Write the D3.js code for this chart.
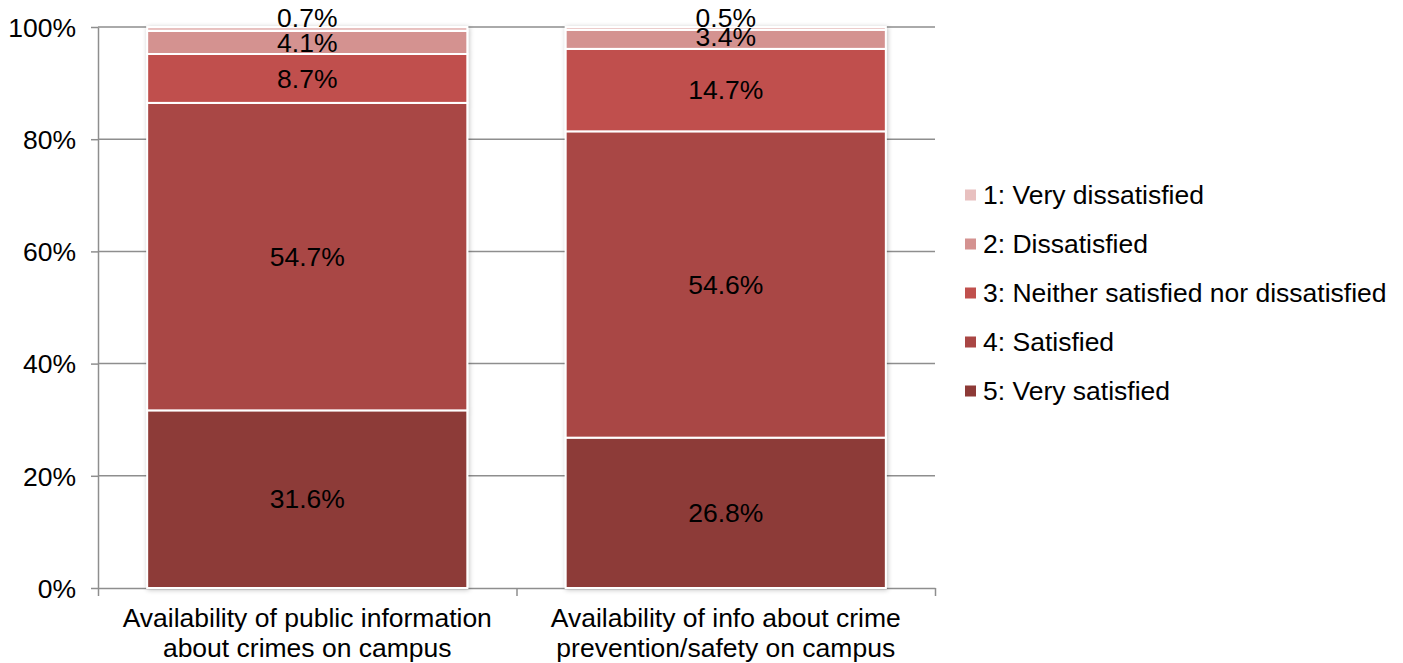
<!DOCTYPE html>
<html><head><meta charset="utf-8">
<script src="https://cdn.jsdelivr.net/npm/d3@7"></script>
<style>
body{margin:0;background:#fff;}
text{font-family:"Liberation Sans",Arial,sans-serif;fill:#000;}
</style></head>
<body>
<svg id="chart" width="1403" height="663"></svg>
<script>
const categories = [
  ["Availability of public information", "about crimes on campus"],
  ["Availability of info about crime", "prevention/safety on campus"]
];
const seriesNames = ["5: Very satisfied","4: Satisfied","3: Neither satisfied nor dissatisfied","2: Dissatisfied","1: Very dissatisfied"];
const series5 = [31.6, 26.8];
const series4 = [54.7, 54.6];
const series3 = [8.7, 14.7];
const series2 = [4.1, 3.4];
const series1 = [0.7, 0.5];
const colors = ["#8d3a37","#a94644","#c0504d","#d49290","#e8c0bf"];
const yTicks = [0,20,40,60,80,100];

const FS = 26.5;
const allSeries = [series5, series4, series3, series2, series1];
const svg = d3.select("#chart");
const m = {left:98, right:935, top:27, bottom:588};

const x = d3.scaleBand().domain([0,1]).range([m.left, m.right]).paddingInner(0.235).paddingOuter(0.1175);
const y = d3.scaleLinear().domain([0,100]).range([m.bottom, m.top]);

// gridlines
svg.append("g").selectAll("line").data(yTicks.filter(d=>d>0)).join("line")
  .attr("x1", m.left).attr("x2", m.right)
  .attr("y1", d=>y(d)).attr("y2", d=>y(d))
  .attr("stroke","#8e8e8e").attr("stroke-width",1.5);

// y axis
const yAxis = svg.append("g").attr("transform",`translate(${m.left},0)`)
  .call(d3.axisLeft(y).tickValues(yTicks).tickFormat(d=>d+"%").tickSize(7).tickSizeOuter(0));
yAxis.select(".domain").attr("stroke","#8e8e8e").attr("stroke-width",1.5);
yAxis.selectAll(".tick line").attr("stroke","#8e8e8e").attr("stroke-width",1.5);
yAxis.selectAll(".tick text").attr("font-size",FS).attr("x",-22).attr("dy","0.35em")
  .attr("font-family","Liberation Sans, Arial, sans-serif").attr("fill","#000");

// x axis
const xb = d3.scaleLinear().domain([0,2]).range([m.left, m.right]);
const xAxis = svg.append("g").attr("transform",`translate(0,${m.bottom})`)
  .call(d3.axisBottom(xb).tickValues([0,1,2]).tickFormat("").tickSize(8).tickSizeOuter(0));
xAxis.select(".domain").attr("stroke","#8e8e8e").attr("stroke-width",1.5);
xAxis.selectAll(".tick line").attr("stroke","#8e8e8e").attr("stroke-width",1.5);

// shadow filter
const defs = svg.append("defs");
const f = defs.append("filter").attr("id","sh").attr("x","-10%").attr("y","-10%").attr("width","120%").attr("height","120%");
f.append("feGaussianBlur").attr("in","SourceAlpha").attr("stdDeviation",2.5).attr("result","b");
f.append("feOffset").attr("in","b").attr("dx",1).attr("dy",1).attr("result","o");
f.append("feComponentTransfer").attr("in","o").attr("result","o2").append("feFuncA").attr("type","linear").attr("slope",0.25);
const mg = f.append("feMerge"); mg.append("feMergeNode").attr("in","o2"); mg.append("feMergeNode").attr("in","SourceGraphic");

// stacks
categories.forEach((c, ci) => {
  const total = d3.sum(allSeries, s=>s[ci]);
  let cum = 0;
  const g = svg.append("g").attr("filter","url(#sh)");
  const segs = allSeries.map((s, si) => {
    const v = s[ci] / total * 100;
    const seg = {si, v:s[ci], y0:cum, y1:cum+v};
    cum += v;
    return seg;
  });
  g.selectAll("rect").data(segs).join("rect")
    .attr("x", x(ci)).attr("width", x.bandwidth())
    .attr("y", d=>y(d.y1)).attr("height", d=>y(d.y0)-y(d.y1))
    .attr("fill", d=>colors[d.si]).attr("stroke","#fff").attr("stroke-width",2);
  svg.append("g").selectAll("text").data(segs).join("text")
    .attr("x", x(ci)+x.bandwidth()/2)
    .attr("y", d => d.v < 1 ? y(d.y1) - 9 : (y(d.y0)+y(d.y1))/2 - (d.v < 4 ? 3 : 0))
    .attr("dy","0.35em").attr("text-anchor","middle").attr("font-size",FS)
    .text(d=>d.v.toFixed(1)+"%");
});

// category labels
categories.forEach((c, ci) => {
  const t = svg.append("text").attr("x", xb(ci+0.5)).attr("y", 627).attr("text-anchor","middle").attr("font-size",FS);
  c.forEach((line, li) => t.append("tspan").attr("x", xb(ci+0.5)).attr("dy", li===0?0:30).text(line));
});

// legend (top to bottom: 1..5)
const legendOrder = [4,3,2,1,0];
const lg = svg.append("g");
legendOrder.forEach((si, i) => {
  const cy = 195 + i*49;
  lg.append("rect").attr("x",965).attr("y",cy-5.5).attr("width",11).attr("height",11).attr("fill",colors[si]);
  lg.append("text").attr("x",983).attr("y",cy).attr("dy","0.35em").attr("font-size",FS).text(seriesNames[si]);
});
</script>
</body></html>
